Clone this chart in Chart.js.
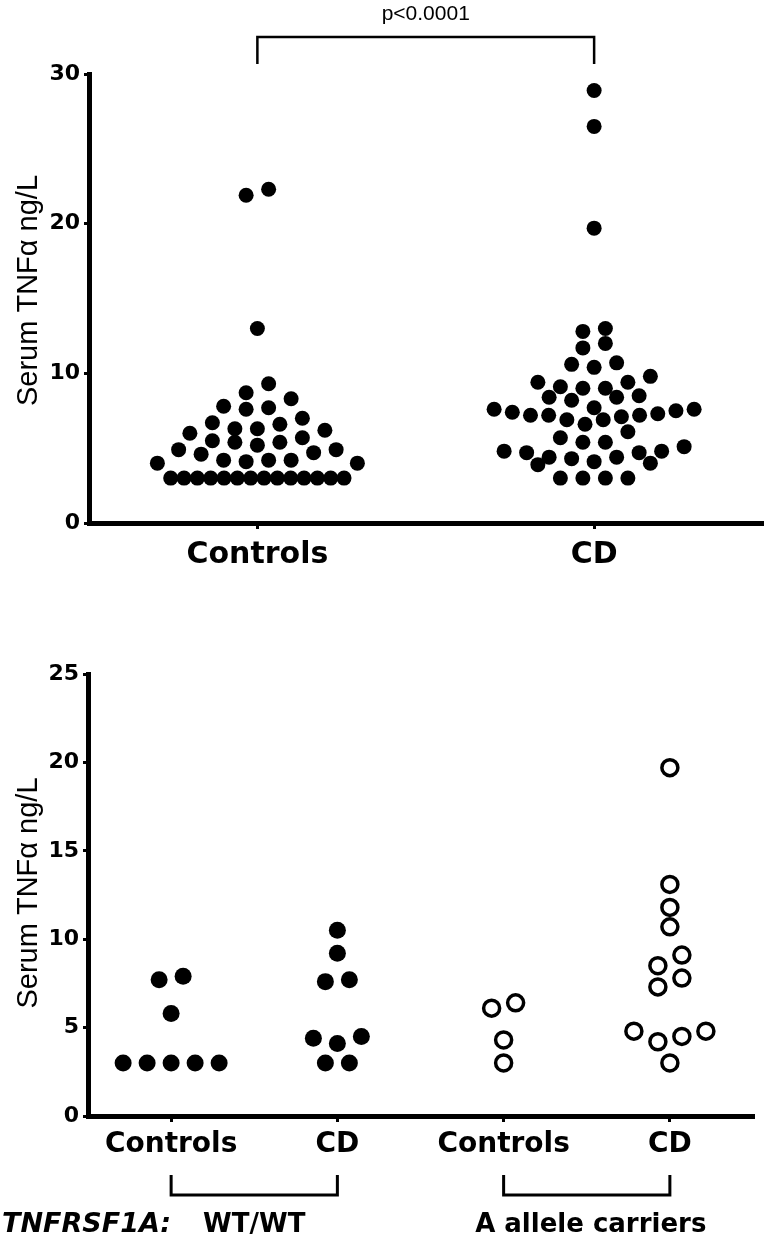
<!DOCTYPE html>
<html>
<head>
<meta charset="utf-8">
<title>Serum TNFα</title>
<script src="https://cdn.jsdelivr.net/npm/chart.js@4.4.0/dist/chart.umd.min.js"></script>
<style>
  html, body { margin: 0; padding: 0; background: #fff; }
  #wrap { position: relative; width: 770px; height: 1237px; }
  canvas { position: absolute; left: 0; }
  #topChart { top: 0; }
  #bottomChart { top: 600px; }
</style>
</head>
<body>
<div id="wrap">
  <canvas id="topChart" width="770" height="600"></canvas>
  <canvas id="bottomChart" width="770" height="637"></canvas>
</div>
<script>
// ---- data ----
var yTitle = 'Serum TNFα ng/L';

// top panel: all subjects
var topCategories = ['Controls', 'CD'];
var topTicks = [0, 10, 20, 30];
var topPValue = 'p<0.0001';
var topControls = [
  3.0, 3.0, 3.0, 3.0, 3.0, 3.0, 3.0, 3.0, 3.0, 3.0, 3.0, 3.0, 3.0, 3.0,
  4.0, 4.1, 4.2, 4.0, 4.2, 4.2,
  4.6, 4.7, 4.9, 4.9, 5.2, 5.4, 5.4, 5.5, 5.7, 6.0,
  6.2, 6.3, 6.3, 6.6, 6.7, 7.0, 7.6, 7.7, 7.8,
  8.3, 8.7, 9.3, 13.0, 21.9, 22.3
];
var topCD = [
  3.0, 3.0, 3.0, 3.0,
  3.9, 4.0, 4.1, 4.3, 4.4, 4.4,
  4.7, 4.7, 4.8, 4.8, 5.1, 5.4, 5.4, 5.7, 6.1,
  6.6, 6.9, 6.9, 7.1, 7.2, 7.2, 7.2, 7.3, 7.4, 7.5, 7.6, 7.6, 7.7,
  8.2, 8.4, 8.4, 8.5, 9.0, 9.0, 9.1, 9.4, 9.4,
  9.8, 10.4, 10.6, 10.7, 11.7, 12.0, 12.8, 13.0,
  19.7, 26.5, 28.9
];

// bottom panel: split by TNFRSF1A genotype
var bottomCategories = ['Controls', 'CD', 'Controls', 'CD'];
var bottomTicks = [0, 5, 10, 15, 20, 25];
var genotypeLabel = 'TNFRSF1A:';
var genotypeGroups = ['WT/WT', 'A allele carriers'];
var wtControls = [3.0, 3.0, 3.0, 3.0, 3.0, 5.8, 7.7, 7.9];
var wtCD = [3.0, 3.0, 4.1, 4.4, 4.5, 7.6, 7.7, 9.2, 10.5];
var carrierControls = [3.0, 4.3, 6.1, 6.4];
var carrierCD = [3.0, 4.2, 4.5, 4.8, 4.8, 7.3, 7.8, 8.5, 9.1, 10.7, 11.8, 13.1, 19.7];

// ---- helpers ----
Chart.defaults.font.family = 'DejaVu Sans';
Chart.defaults.color = '#000';

// prism-like dot plot: group values into rows, spread each row around the column centre
// (lowest value of a row in the middle, higher ones alternating outwards)
function beeswarm(values, center, xs, ys, opt) {
  var pts = values.map(function(v) { return { v: v, py: ys.getPixelForValue(v) }; });
  pts.sort(function(a, b) { return a.v - b.v; });
  var rows = [];
  var row = null;
  pts.forEach(function(p) {
    if (!row || row[0].py - p.py >= opt.rowHeight) { row = []; rows.push(row); }
    row.push(p);
  });
  var cx = xs.getPixelForValue(center);
  var out = [];
  rows.forEach(function(r) {
    var n = r.length;
    var step = n > 1 ? Math.min(opt.spacing, opt.maxWidth / (n - 1)) : 0;
    var slots = [];
    for (var i = 0; i < n; i++) slots.push((i - (n - 1) / 2) * step);
    slots.sort(function(a, b) { return Math.abs(a) - Math.abs(b) || a - b; });
    r.forEach(function(p, i) {
      out.push({ x: xs.getValueForPixel(cx + slots[i]), y: p.v });
    });
  });
  return out;
}

function spreadPoints(chart, groups, opt) {
  chart.data.datasets.forEach(function(ds, i) {
    ds.data = beeswarm(groups[i], i + 1, chart.scales.x, chart.scales.y, opt);
  });
  chart.update('none');
}

function makeY(ticks, width) {
  return {
    min: ticks[0],
    max: ticks[ticks.length - 1],
    afterBuildTicks: function(axis) { axis.ticks = ticks.map(function(v) { return { value: v }; }); },
    afterFit: function(axis) { axis.width = width; },
    border: { display: true, color: '#000', width: 5 },
    grid: { drawOnChartArea: false, drawTicks: true, tickLength: 5, lineWidth: 3, color: '#000' },
    ticks: { color: '#000', padding: 4, font: { family: 'DejaVu Sans', weight: 'bold', size: 22 } }
  };
}

function makeX(labels, height, size, pad) {
  return {
    type: 'linear',
    min: 0.5,
    max: labels.length + 0.5,
    afterBuildTicks: function(axis) { axis.ticks = labels.map(function(l, i) { return { value: i + 1 }; }); },
    afterFit: function(axis) { axis.height = height; },
    border: { display: true, color: '#000', width: 5 },
    grid: { drawOnChartArea: false, drawTicks: true, tickLength: 6, lineWidth: 3, color: '#000' },
    ticks: {
      autoSkip: false, maxRotation: 0, minRotation: 0, padding: pad, color: '#000',
      font: { family: 'DejaVu Sans', weight: 'bold', size: size },
      callback: function(v) { return labels[Math.round(v) - 1]; }
    }
  };
}

function drawYTitle(ctx, x, y) {
  ctx.save();
  ctx.translate(x, y);
  ctx.rotate(-Math.PI / 2);
  ctx.fillStyle = '#000';
  ctx.font = '29px "Liberation Sans"';
  ctx.textAlign = 'center';
  ctx.textBaseline = 'alphabetic';
  ctx.fillText(yTitle, 0, 0);
  ctx.restore();
}

function filled(values, i, r) {
  return {
    data: values.map(function(v) { return { x: i, y: v }; }),
    pointRadius: r, pointHoverRadius: r,
    pointBackgroundColor: '#000', pointBorderColor: '#000', pointBorderWidth: 0,
    showLine: false, clip: false
  };
}

function open(values, i, r) {
  return {
    data: values.map(function(v) { return { x: i, y: v }; }),
    pointRadius: r, pointHoverRadius: r,
    pointBackgroundColor: '#fff', pointBorderColor: '#000', pointBorderWidth: 3.5,
    showLine: false, clip: false
  };
}

// ---- top panel ----
var topNotes = {
  id: 'topNotes',
  afterDraw: function(chart) {
    var ctx = chart.ctx, a = chart.chartArea, xs = chart.scales.x;
    var x1 = xs.getPixelForValue(1), x2 = xs.getPixelForValue(2);
    ctx.save();
    ctx.strokeStyle = '#000';
    ctx.lineWidth = 2.5;
    ctx.beginPath();
    ctx.moveTo(x1, 64); ctx.lineTo(x1, 37); ctx.lineTo(x2, 37); ctx.lineTo(x2, 64);
    ctx.stroke();
    ctx.fillStyle = '#000';
    ctx.font = '21px "Liberation Sans"';
    ctx.textAlign = 'center';
    ctx.fillText(topPValue, (x1 + x2) / 2, 20);
    ctx.restore();
    drawYTitle(ctx, 37, (a.top + a.bottom) / 2 - 8);
  }
};

var topChart = new Chart(document.getElementById('topChart'), {
  type: 'scatter',
  data: { datasets: [filled(topControls, 1, 7.5), filled(topCD, 2, 7.5)] },
  options: {
    responsive: false, animation: false, devicePixelRatio: 1,
    layout: { padding: { top: 74, right: 5, left: 0, bottom: 0 } },
    plugins: { legend: { display: false }, tooltip: { enabled: false } },
    scales: { x: makeX(topCategories, 77, 30, 8), y: makeY(topTicks, 89) }
  },
  plugins: [topNotes]
});
spreadPoints(topChart, [topControls, topCD], { rowHeight: 15, spacing: 22.5, maxWidth: 200 });

// ---- bottom panel ----
var bottomNotes = {
  id: 'bottomNotes',
  afterDraw: function(chart) {
    var ctx = chart.ctx, a = chart.chartArea, xs = chart.scales.x;
    var px = [1, 2, 3, 4].map(function(v) { return xs.getPixelForValue(v); });
    ctx.save();
    ctx.strokeStyle = '#000';
    ctx.lineWidth = 3;
    [[px[0], px[1]], [px[2], px[3]]].forEach(function(b) {
      ctx.beginPath();
      ctx.moveTo(b[0], 575); ctx.lineTo(b[0], 595); ctx.lineTo(b[1], 595); ctx.lineTo(b[1], 575);
      ctx.stroke();
    });
    ctx.fillStyle = '#000';
    ctx.textAlign = 'left';
    ctx.font = 'italic bold 27px "DejaVu Sans"';
    ctx.fillText(genotypeLabel, 2, 632);
    ctx.textAlign = 'center';
    ctx.font = 'bold 26px "DejaVu Sans"';
    ctx.fillText(genotypeGroups[0], (px[0] + px[1]) / 2, 632);
    ctx.fillText(genotypeGroups[1], (px[2] + px[3]) / 2 + 4, 632);
    ctx.restore();
    drawYTitle(ctx, 37, (a.top + a.bottom) / 2 - 2);
  }
};

var bottomChart = new Chart(document.getElementById('bottomChart'), {
  type: 'scatter',
  data: {
    datasets: [
      filled(wtControls, 1, 8.5), filled(wtCD, 2, 8.5),
      open(carrierControls, 3, 8), open(carrierCD, 4, 8)
    ]
  },
  options: {
    responsive: false, animation: false, devicePixelRatio: 1,
    layout: { padding: { top: 74, right: 17, left: 0, bottom: 0 } },
    plugins: { legend: { display: false }, tooltip: { enabled: false } },
    scales: { x: makeX(bottomCategories, 121, 28, 6), y: makeY(bottomTicks, 88) }
  },
  plugins: [bottomNotes]
});
spreadPoints(bottomChart, [wtControls, wtCD, carrierControls, carrierCD], { rowHeight: 18, spacing: 24, maxWidth: 130 });
</script>
</body>
</html>
